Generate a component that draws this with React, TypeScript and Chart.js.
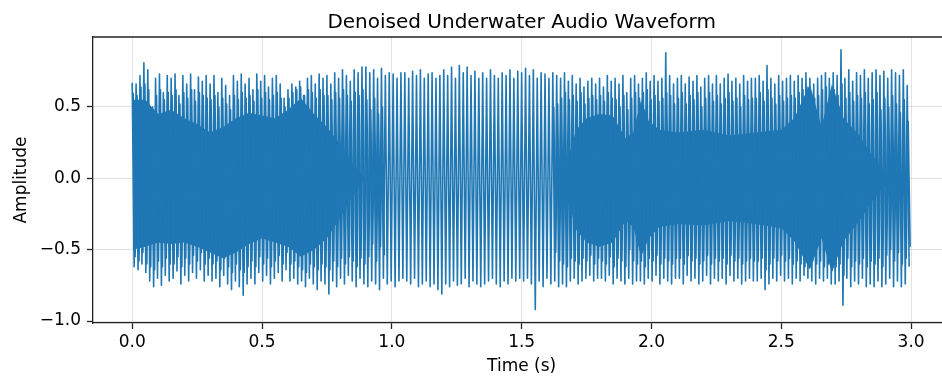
import { useEffect, useRef } from 'react';
import { Chart, registerables } from 'chart.js';

Chart.register(...registerables);

const chartTitle = 'Denoised Underwater Audio Waveform';
const xAxisLabel = 'Time (s)';
const yAxisLabel = 'Amplitude';
const xTickValues = [0, 0.5, 1.0, 1.5, 2.0, 2.5, 3.0];
const yTickValues = [-1.0, -0.5, 0.0, 0.5];

// one oscillation every 0.015 s: a crest then a trough
const cycleSeconds = 0.015;
const crestValues = [
  0.67, 0.66, 0.72, 0.81, 0.76, 0.45, 0.70, 0.73, 0.60, 0.72,
  0.70, 0.73, 0.58, 0.72, 0.66, 0.73, 0.62, 0.71, 0.68, 0.72,
  0.66, 0.72, 0.60, 0.70, 0.65, 0.58, 0.72, 0.68, 0.73, 0.66,
  0.70, 0.62, 0.73, 0.68, 0.72, 0.64, 0.70, 0.72, 0.66, 0.56,
  0.62, 0.66, 0.64, 0.68, 0.58, 0.70, 0.72, 0.66, 0.73, 0.70,
  0.72, 0.66, 0.74, 0.70, 0.76, 0.72, 0.68, 0.76, 0.74, 0.78,
  0.78, 0.74, 0.76, 0.70, 0.77, 0.72, 0.74, 0.73, 0.70, 0.74,
  0.74, 0.70, 0.75, 0.72, 0.76, 0.70, 0.73, 0.74, 0.70, 0.72,
  0.76, 0.72, 0.78, 0.70, 0.79, 0.74, 0.78, 0.72, 0.75, 0.70,
  0.74, 0.70, 0.76, 0.72, 0.70, 0.74, 0.72, 0.76, 0.70, 0.75,
  0.74, 0.77, 0.72, 0.76, 0.70, 0.74, 0.73, 0.70, 0.74, 0.72,
  0.70, 0.74, 0.68, 0.72, 0.66, 0.70, 0.64, 0.68, 0.70, 0.66,
  0.70, 0.64, 0.72, 0.68, 0.70, 0.66, 0.72, 0.60, 0.70, 0.72,
  0.66, 0.70, 0.74, 0.68, 0.72, 0.68, 0.70, 0.88, 0.72, 0.66,
  0.70, 0.72, 0.66, 0.71, 0.68, 0.72, 0.64, 0.70, 0.72, 0.66,
  0.72, 0.66, 0.70, 0.73, 0.68, 0.70, 0.66, 0.72, 0.68, 0.70,
  0.70, 0.72, 0.68, 0.79, 0.70, 0.66, 0.72, 0.68, 0.70, 0.72,
  0.68, 0.72, 0.70, 0.74, 0.70, 0.66, 0.70, 0.72, 0.74, 0.70,
  0.74, 0.72, 0.90, 0.70, 0.76, 0.68, 0.74, 0.72, 0.76, 0.70,
  0.74, 0.76, 0.72, 0.75, 0.70, 0.76, 0.74, 0.72, 0.76, 0.65,
];
const troughValues = [
  -0.62, -0.64, -0.60, -0.66, -0.72, -0.76, -0.70, -0.75, -0.68, -0.72,
  -0.70, -0.65, -0.74, -0.68, -0.72, -0.66, -0.70, -0.64, -0.72, -0.68,
  -0.72, -0.70, -0.76, -0.68, -0.74, -0.78, -0.72, -0.76, -0.82, -0.74,
  -0.70, -0.74, -0.66, -0.72, -0.68, -0.74, -0.70, -0.66, -0.72, -0.64,
  -0.72, -0.70, -0.74, -0.72, -0.76, -0.70, -0.74, -0.78, -0.72, -0.74,
  -0.81, -0.72, -0.76, -0.70, -0.74, -0.68, -0.72, -0.76, -0.70, -0.74,
  -0.76, -0.72, -0.74, -0.78, -0.70, -0.74, -0.72, -0.76, -0.72, -0.70,
  -0.72, -0.74, -0.70, -0.76, -0.74, -0.72, -0.76, -0.74, -0.78, -0.81,
  -0.74, -0.76, -0.72, -0.75, -0.74, -0.70, -0.76, -0.72, -0.74, -0.76,
  -0.74, -0.72, -0.70, -0.74, -0.76, -0.72, -0.74, -0.70, -0.72, -0.70,
  -0.72, -0.70, -0.74, -0.92, -0.72, -0.76, -0.70, -0.74, -0.72, -0.76,
  -0.74, -0.76, -0.72, -0.70, -0.74, -0.72, -0.70, -0.68, -0.72, -0.70,
  -0.70, -0.72, -0.68, -0.74, -0.70, -0.72, -0.74, -0.70, -0.74, -0.72,
  -0.72, -0.74, -0.70, -0.72, -0.68, -0.74, -0.70, -0.72, -0.74, -0.70,
  -0.70, -0.74, -0.68, -0.72, -0.70, -0.74, -0.72, -0.68, -0.74, -0.70,
  -0.72, -0.70, -0.74, -0.68, -0.72, -0.70, -0.74, -0.72, -0.70, -0.72,
  -0.72, -0.70, -0.78, -0.74, -0.70, -0.72, -0.68, -0.72, -0.70, -0.74,
  -0.70, -0.72, -0.68, -0.70, -0.72, -0.74, -0.70, -0.72, -0.70, -0.74,
  -0.74, -0.72, -0.89, -0.70, -0.76, -0.72, -0.74, -0.70, -0.76, -0.74,
  -0.76, -0.72, -0.76, -0.74, -0.70, -0.76, -0.72, -0.76, -0.74, -0.62,
];

// a second, weaker oscillation between the main crests and troughs
// (absent, null, in the clean stretch around 1.0 to 1.65 s)
const innerCrestValues = [
  0.60, 0.58, 0.64, 0.66, 0.62, 0.50, 0.58, 0.62, 0.55, 0.60,
  0.58, 0.62, 0.52, 0.60, 0.56, 0.62, 0.54, 0.60, 0.58, 0.56,
  0.55, 0.58, 0.50, 0.56, 0.52, 0.48, 0.58, 0.55, 0.60, 0.56,
  0.58, 0.54, 0.62, 0.56, 0.60, 0.55, 0.58, 0.60, 0.56, 0.50,
  0.56, 0.60, 0.62, 0.64, 0.58, 0.62, 0.60, 0.56, 0.62, 0.58,
  0.58, 0.55, 0.60, 0.56, 0.62, 0.58, 0.54, 0.60, 0.58, 0.62,
  0.55, 0.48, 0.56, 0.45, 0.50, null, null, null, null, null,
  null, null, null, null, null, null, null, null, null, null,
  null, null, null, null, null, null, null, null, null, null,
  null, null, null, null, null, null, null, null, null, null,
  null, null, null, null, null, null, null, null, 0.50, 0.52,
  0.56, 0.60, 0.55, 0.58, 0.54, 0.60, 0.52, 0.56, 0.58, 0.55,
  0.58, 0.54, 0.60, 0.56, 0.55, 0.50, 0.58, 0.48, 0.56, 0.60,
  0.56, 0.60, 0.62, 0.55, 0.58, 0.54, 0.56, 0.60, 0.58, 0.52,
  0.56, 0.60, 0.52, 0.58, 0.55, 0.60, 0.50, 0.56, 0.60, 0.54,
  0.58, 0.52, 0.56, 0.60, 0.54, 0.56, 0.50, 0.58, 0.55, 0.56,
  0.56, 0.60, 0.54, 0.62, 0.56, 0.52, 0.58, 0.54, 0.56, 0.58,
  0.56, 0.60, 0.62, 0.64, 0.60, 0.56, 0.58, 0.62, 0.64, 0.60,
  0.62, 0.58, 0.66, 0.56, 0.60, 0.54, 0.58, 0.56, 0.60, 0.52,
  0.55, 0.60, 0.48, 0.56, 0.50, 0.58, 0.52, 0.46, 0.55, 0.40,
];
const innerTroughValues = [
  -0.55, -0.58, -0.52, -0.60, -0.62, -0.64, -0.58, -0.62, -0.56, -0.60,
  -0.60, -0.55, -0.62, -0.56, -0.60, -0.54, -0.58, -0.52, -0.60, -0.56,
  -0.60, -0.58, -0.64, -0.56, -0.62, -0.66, -0.60, -0.64, -0.66, -0.62,
  -0.58, -0.62, -0.55, -0.60, -0.56, -0.62, -0.58, -0.54, -0.60, -0.52,
  -0.60, -0.58, -0.62, -0.64, -0.66, -0.60, -0.62, -0.64, -0.60, -0.62,
  -0.64, -0.58, -0.62, -0.56, -0.60, -0.55, -0.58, -0.62, -0.56, -0.60,
  -0.55, -0.46, -0.58, -0.48, -0.54, null, null, null, null, null,
  null, null, null, null, null, null, null, null, null, null,
  null, null, null, null, null, null, null, null, null, null,
  null, null, null, null, null, null, null, null, null, null,
  null, null, null, null, null, null, null, null, -0.52, -0.58,
  -0.60, -0.62, -0.56, -0.58, -0.60, -0.56, -0.58, -0.54, -0.60, -0.56,
  -0.58, -0.60, -0.55, -0.62, -0.56, -0.58, -0.62, -0.50, -0.58, -0.60,
  -0.58, -0.62, -0.56, -0.58, -0.54, -0.60, -0.56, -0.58, -0.60, -0.56,
  -0.56, -0.60, -0.54, -0.58, -0.56, -0.60, -0.58, -0.54, -0.60, -0.56,
  -0.58, -0.56, -0.60, -0.54, -0.58, -0.56, -0.60, -0.58, -0.56, -0.58,
  -0.58, -0.56, -0.64, -0.60, -0.56, -0.58, -0.54, -0.58, -0.56, -0.60,
  -0.58, -0.60, -0.62, -0.60, -0.58, -0.60, -0.58, -0.62, -0.60, -0.64,
  -0.62, -0.60, -0.68, -0.56, -0.62, -0.58, -0.60, -0.56, -0.62, -0.58,
  -0.60, -0.56, -0.62, -0.54, -0.50, -0.58, -0.52, -0.60, -0.56, -0.48,
];

// dense (solid-looking) band of the waveform
const bandTimes = [
  0.003, 0.05, 0.1, 0.15, 0.2, 0.25, 0.3, 0.35, 0.4, 0.45, 0.5, 0.55, 0.6, 0.65,
  0.7, 0.75, 0.8, 0.85, 0.9, 1.65, 1.68, 1.71, 1.75, 1.8, 1.85,
  1.9, 1.93, 1.96, 1.99, 2.03, 2.1, 2.2, 2.3, 2.4, 2.5, 2.55, 2.61, 2.655, 2.695,
  2.74, 2.8, 2.85, 2.9, 2.95, 2.998,
];
const bandUpper = [
  0.55, 0.55, 0.45, 0.48, 0.42, 0.38, 0.32, 0.36, 0.42, 0.46, 0.44, 0.42, 0.48, 0.56,
  0.45, 0.36, 0.24, 0.10, 0.0, 0.0, 0.14, 0.34, 0.42, 0.45, 0.44,
  0.28, 0.32, 0.55, 0.40, 0.34, 0.32, 0.34, 0.30, 0.32, 0.34, 0.42, 0.66, 0.36, 0.66,
  0.42, 0.30, 0.16, 0.05, 0.0, 0.0,
];
const bandLower = [
  -0.50, -0.48, -0.45, -0.46, -0.45, -0.48, -0.52, -0.56, -0.52, -0.46, -0.42, -0.45, -0.48, -0.55,
  -0.50, -0.42, -0.28, -0.12, 0.0, 0.0, -0.16, -0.36, -0.45, -0.48, -0.45,
  -0.30, -0.34, -0.55, -0.42, -0.34, -0.32, -0.33, -0.30, -0.32, -0.35, -0.44, -0.64, -0.42, -0.66,
  -0.44, -0.30, -0.16, -0.05, 0.0, 0.0,
];

const blue = '#1f77b4';
const spineColor = '#222222';
const font = '"DejaVu Sans", sans-serif';

function fmt(v: number): string {
  const s = Math.abs(v).toFixed(1);
  return v < 0 ? '\u2212' + s : s;
}

export default function App() {
  const ref = useRef<HTMLCanvasElement | null>(null);

  useEffect(() => {
    const canvas = ref.current;
    if (!canvas) return;

    const wave: { x: number; y: number }[] = [];
    crestValues.forEach((v, i) => {
      wave.push({ x: i * cycleSeconds, y: v });
      wave.push({ x: i * cycleSeconds + cycleSeconds / 2, y: troughValues[i] });
    });
    const inner: { x: number; y: number | null }[] = [];
    innerCrestValues.forEach((v, i) => {
      inner.push({ x: i * cycleSeconds + cycleSeconds / 4, y: v });
      inner.push({ x: i * cycleSeconds + (3 * cycleSeconds) / 4, y: innerTroughValues[i] });
    });
    const upper = bandTimes.map((t, i) => ({ x: t, y: bandUpper[i] }));
    const lower = bandTimes.map((t, i) => ({ x: t, y: bandLower[i] }));

    const frame = {
      id: 'frame',
      afterDraw(chart: any) {
        const { ctx, chartArea, scales } = chart;
        ctx.save();
        ctx.strokeStyle = spineColor;
        ctx.lineWidth = 1.3;
        ctx.beginPath();
        ctx.moveTo(chartArea.left, chartArea.top);
        ctx.lineTo(chartArea.right, chartArea.top);
        ctx.stroke();
        const cx = scales.x.getPixelForValue(1.5);
        ctx.fillStyle = '#000';
        ctx.textAlign = 'center';
        ctx.textBaseline = 'alphabetic';
        ctx.font = '20px ' + font;
        ctx.fillText(chartTitle, cx, 28);
        ctx.font = '17px ' + font;
        ctx.fillText(xAxisLabel, cx, 371);
        ctx.translate(25.5, (chartArea.top + chartArea.bottom) / 2);
        ctx.rotate(-Math.PI / 2);
        ctx.fillText(yAxisLabel, 0, 0);
        ctx.restore();
      },
    };

    const lineStyle = {
      borderColor: blue,
      borderWidth: 1.6,
      borderJoinStyle: 'round',
      pointRadius: 0,
      tension: 0,
      fill: false,
      spanGaps: false,
    };

    const chart = new Chart(canvas, {
      type: 'line',
      data: {
        datasets: [
          { data: wave, ...lineStyle },
          { data: inner, ...lineStyle },
          {
            data: upper,
            borderColor: blue,
            borderWidth: 0,
            backgroundColor: blue,
            pointRadius: 0,
            tension: 0,
            fill: '+1',
          },
          {
            data: lower,
            borderColor: blue,
            borderWidth: 0,
            pointRadius: 0,
            tension: 0,
            fill: false,
          },
        ],
      },
      options: {
        animation: false,
        responsive: false,
        devicePixelRatio: 1,
        parsing: false,
        events: [],
        layout: { padding: { top: 37, left: 0, right: 0, bottom: 0 } },
        plugins: {
          legend: { display: false },
          title: { display: false },
          tooltip: { enabled: false },
        },
        scales: {
          x: {
            type: 'linear',
            min: -0.151,
            max: 3.119,
            afterBuildTicks: (s: any) => {
              s.ticks = xTickValues.map((v) => ({ value: v }));
            },
            afterFit: (s: any) => {
              s.height = 55;
            },
            ticks: {
              callback: (v: any) => fmt(Number(v)),
              color: '#000',
              font: { family: 'DejaVu Sans', size: 17 },
              padding: 3,
              maxRotation: 0,
              autoSkip: false,
            },
            grid: {
              color: 'rgba(176,176,176,0.35)',
              lineWidth: 1,
              tickColor: spineColor,
              tickLength: 6,
              tickWidth: 1.3,
            },
            border: { display: true, color: spineColor, width: 1.3 },
          },
          y: {
            type: 'linear',
            min: -1.014,
            max: 0.99,
            afterBuildTicks: (s: any) => {
              s.ticks = yTickValues.map((v) => ({ value: v }));
            },
            afterFit: (s: any) => {
              s.width = 93;
            },
            ticks: {
              callback: (v: any) => fmt(Number(v)),
              color: '#000',
              font: { family: 'DejaVu Sans', size: 17 },
              padding: 6,
              autoSkip: false,
            },
            grid: {
              color: 'rgba(176,176,176,0.35)',
              lineWidth: 1,
              tickColor: spineColor,
              tickLength: 6,
              tickWidth: 1.3,
            },
            border: { display: true, color: spineColor, width: 1.3 },
          },
        },
      },
      plugins: [frame],
    } as any);

    return () => chart.destroy();
  }, []);

  return (
    <div style={{ position: 'fixed', left: 0, top: 0, width: 942, height: 378, background: '#fff' }}>
      <canvas ref={ref} width={942} height={378} style={{ display: 'block', width: 942, height: 378 }} />
    </div>
  );
}
